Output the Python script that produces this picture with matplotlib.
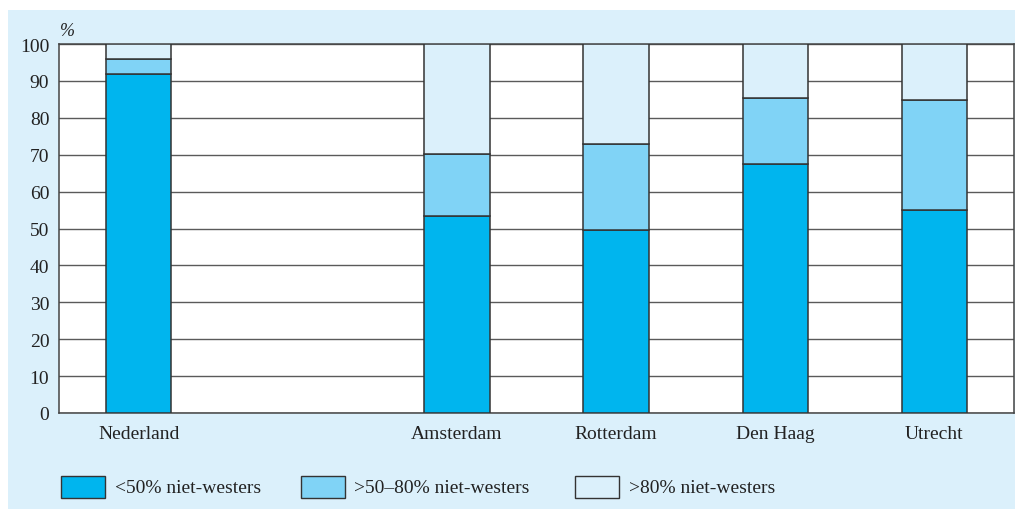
import numpy as np
import matplotlib.pyplot as plt
from matplotlib.patches import Rectangle

# share of population by neighbourhood type (%)
places = ['Nederland', 'Amsterdam', 'Rotterdam', 'Den Haag', 'Utrecht']
xpos = [0, 2, 3, 4, 5]
low = np.array([92.0, 53.3, 49.7, 67.4, 55.0])     # <50% niet-westers
mid = np.array([4.0, 16.8, 23.3, 17.9, 29.9])      # >50-80% niet-westers
high = 100 - low - mid                              # >80% niet-westers
labels = ['<50% niet-westers', '>50\u201380% niet-westers', '>80% niet-westers']
yticks = list(range(0, 101, 10))

c_low = '#00b5ee'
c_mid = '#80d3f6'
c_high = '#dbf0fb'
bg = '#dbf0fb'
edge = '#333333'

plt.rcParams['font.family'] = ['Liberation Serif', 'DejaVu Serif']

fig = plt.figure(figsize=(10.15, 5.10), dpi=100)
fig.patch.set_facecolor('white')
# light blue panel
fig.patches.append(Rectangle((8/1015, 0), 1 - 8/1015, 1 - 11/510,
                             transform=fig.transFigure, facecolor=bg,
                             edgecolor='none', zorder=-1))

ax = fig.add_axes([59/1015, 1 - 414/510, 955/1015, 369/510])
ax.set_facecolor('white')

w = 0.41
ax.bar(xpos, low, w, color=c_low, edgecolor=edge, linewidth=1.1, zorder=3)
ax.bar(xpos, mid, w, bottom=low, color=c_mid, edgecolor=edge, linewidth=1.1, zorder=3)
ax.bar(xpos, high, w, bottom=low + mid, color=c_high, edgecolor=edge, linewidth=1.1, zorder=3)

ax.set_xlim(-0.5, 5.5)
ax.set_ylim(0, 100)
ax.set_yticks(yticks)
ax.set_xticks(xpos)
ax.set_xticklabels(places, fontsize=14, color='#222222')
ax.tick_params(axis='y', length=0, pad=7, labelsize=14, labelcolor='#222222')
ax.tick_params(axis='x', length=0, pad=9)
ax.yaxis.grid(True, color='#5a5a5a', linewidth=1.0)
ax.set_axisbelow(True)
for s in ax.spines.values():
    s.set_color('#444444')
    s.set_linewidth(1.1)

fig.text(60/1015, 1 - 31/510, '%', fontsize=13, style='italic', color='#222222',
         va='center', ha='left')

# legend
box_x = [61, 301, 575]
txt_x = [115, 354, 629]
colors = [c_low, c_mid, c_high]
for bx, tx, col, lab in zip(box_x, txt_x, colors, labels):
    fig.patches.append(Rectangle((bx/1015, 1 - 499/510), 44/1015, 22/510,
                                 transform=fig.transFigure, facecolor=col,
                                 edgecolor=edge, linewidth=1.0))
    fig.text(tx/1015, 1 - 489/510, lab, fontsize=14, color='#222222',
             va='center', ha='left')

fig.savefig('out.png', dpi=100)
